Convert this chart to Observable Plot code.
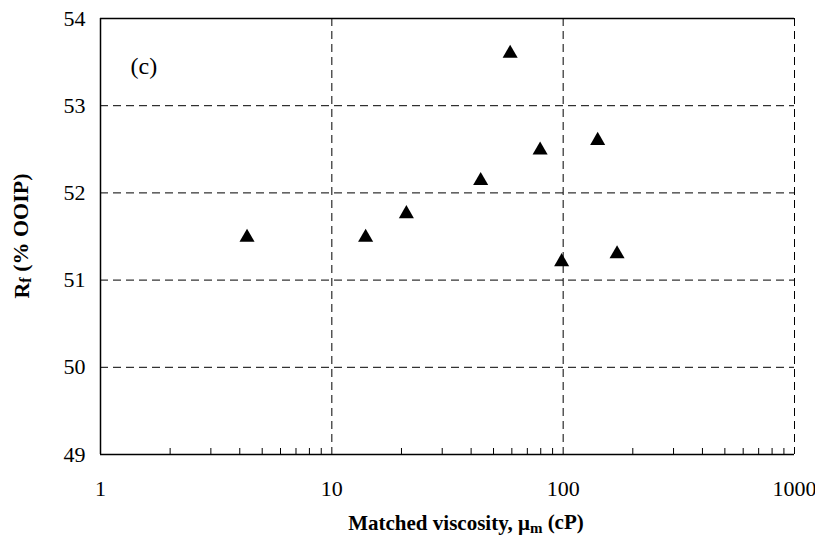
<!DOCTYPE html>
<html>
<head>
<meta charset="utf-8">
<script src="https://cdn.jsdelivr.net/npm/d3@7"></script>
<script src="https://cdn.jsdelivr.net/npm/@observablehq/plot@0.6"></script>
<style>
  html, body { margin: 0; padding: 0; background: #fff; }
  #chart { width: 815px; height: 539px; }
</style>
</head>
<body>
<div id="chart"></div>
<script>
// Recovery factor versus matched viscosity
const viscosity = [4.3, 14, 21, 44, 59, 79.5, 98.5, 141, 171];
const recovery = [51.49, 51.49, 51.76, 52.14, 53.60, 52.49, 51.21, 52.60, 51.30];

// Axis ticks and gridlines
const xTicks = [1, 10, 100, 1000];
const xMinorTicks = [2, 3, 4, 5, 6, 7, 8, 9, 20, 30, 40, 50, 60, 70, 80, 90, 200, 300, 400, 500, 600, 700, 800, 900];
const xGrid = [10, 100, 1000];
const yTicks = [49, 50, 51, 52, 53, 54];
const yGrid = [50, 51, 52, 53];

const data = viscosity.map((v, i) => ({mu: v, rf: recovery[i]}));

const font = "'Liberation Serif', 'Times New Roman', serif";
const dash = {stroke: "#000", strokeWidth: 1, strokeDasharray: "8,5"};

const chart = Plot.plot({
  width: 815,
  height: 539,
  marginLeft: 100,
  marginRight: 21,
  marginTop: 18,
  marginBottom: 85,
  style: {fontFamily: font, fontSize: "22px", background: "#fff", color: "#000"},
  x: {type: "log", domain: [1, 1000]},
  y: {domain: [49, 54]},
  marks: [
    Plot.ruleY(yGrid, dash),
    Plot.ruleX(xGrid, dash),
    Plot.ruleX([1], {stroke: "#000", strokeWidth: 1.5}),
    Plot.ruleY([49], {stroke: "#000", strokeWidth: 1.5}),
    Plot.ruleY([54], {stroke: "#000", strokeWidth: 1.5}),
    Plot.ruleX(xMinorTicks, {x: d => d, y1: 49, y2: 49, insetBottom: 6, stroke: "#000", strokeWidth: 1}),
    Plot.axisX({ticks: xTicks, tickSize: 0, tickPadding: 26, tickFormat: d => String(d), label: null, fontSize: 22}),
    Plot.axisY({ticks: yTicks, tickSize: 0, tickPadding: 15, tickFormat: d => String(d), label: null, fontSize: 22}),
    Plot.text(["(c)"], {frameAnchor: "top-left", dx: 30, dy: 38, textAnchor: "start", fontSize: 24}),
    Plot.dot(data, {x: "mu", y: "rf", symbol: "triangle", r: 5.6, fill: "#000", stroke: "none"})
  ]
});

document.getElementById("chart").appendChild(chart);

// Axis titles with subscripts
const svg = d3.select(chart);

const yTitle = svg.append("text")
  .attr("transform", "translate(29,236) rotate(-90)")
  .attr("text-anchor", "middle")
  .attr("font-family", font)
  .attr("font-weight", "bold")
  .attr("font-size", 22)
  .attr("fill", "#000");
yTitle.append("tspan").text("R");
yTitle.append("tspan").attr("font-size", 16).attr("dy", "0.15em").text("f");
yTitle.append("tspan").attr("dy", "-0.15em").text(" (% OOIP)");

const xTitle = svg.append("text")
  .attr("x", 466)
  .attr("y", 530)
  .attr("text-anchor", "middle")
  .attr("font-family", font)
  .attr("font-weight", "bold")
  .attr("font-size", 21)
  .attr("fill", "#000");
xTitle.append("tspan").text("Matched viscosity, \u03bc");
xTitle.append("tspan").attr("font-size", 15).attr("dy", "0.2em").text("m");
xTitle.append("tspan").attr("dy", "-0.2em").text(" (cP)");
</script>
</body>
</html>
